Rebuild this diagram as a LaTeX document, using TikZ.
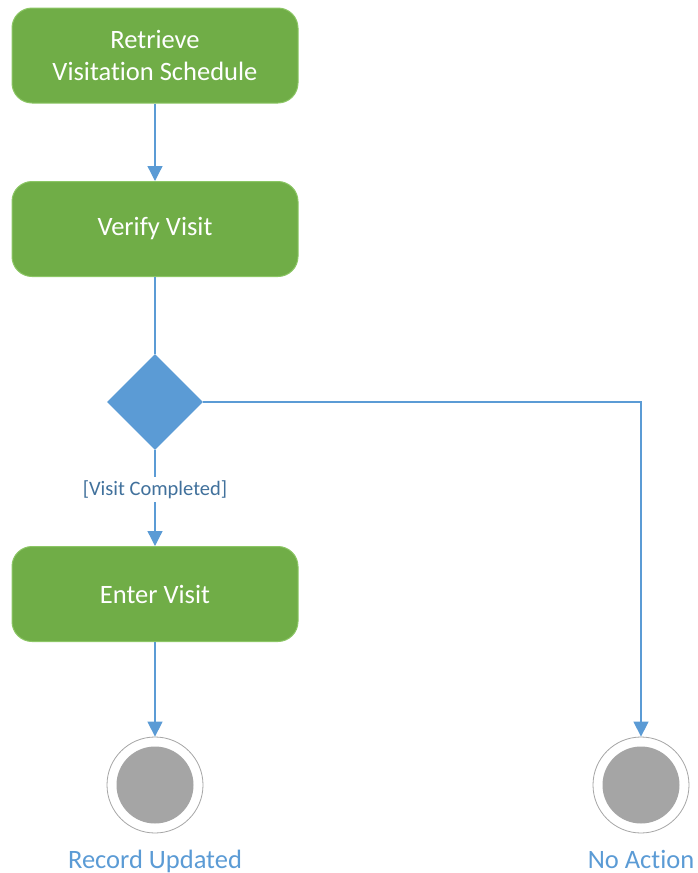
\documentclass[tikz,border=0pt]{standalone}
\usepackage{fontspec}
\setmainfont[RawFeature={-liga;-clig;-dlig}]{Carlito}
\usetikzlibrary{shapes.geometric,arrows.meta}
\definecolor{actgreen}{HTML}{70AD47}
\definecolor{actborder}{HTML}{8CC665}
\definecolor{flowblue}{HTML}{5B9BD5}
\definecolor{guardblue}{HTML}{41719C}
\definecolor{endgray}{HTML}{A5A5A5}
\tikzset{
  action/.style={draw=actborder, line width=1pt, fill=actgreen, rounded corners=20pt,
    minimum width=286pt, minimum height=95pt, text=white, align=center,
    font=\fontsize{26.5}{32}\selectfont},
  decision/.style={diamond, fill=flowblue, draw=none, minimum width=96pt, minimum height=96pt, inner sep=0pt},
  endouter/.style={circle, draw=endgray, line width=0.8pt, fill=white, minimum size=96pt, inner sep=0pt},
  endinner/.style={circle, fill=endgray, minimum size=77pt, inner sep=0pt},
  flow/.style={draw=flowblue, line width=1.3pt, -{Triangle[length=15pt,width=15pt]}},
  flowplain/.style={draw=flowblue, line width=1.3pt},
  endlabel/.style={text=flowblue, font=\fontsize{26.5}{30}\selectfont, anchor=base, inner sep=0pt},
  guard/.style={text=guardblue, font=\fontsize{20.5}{24}\selectfont, fill=white, inner sep=3pt}
}
\begin{document}
\begin{tikzpicture}[x=1pt,y=-1pt]
\useasboundingbox (0,0) rectangle (697,873);
\node[action] (retrieve) at (155,55.5) {Retrieve\\Visitation Schedule};
\node[action] (verify) at (155,229) {Verify Visit};
\node[decision] (dec) at (155,402) {};
\node[action] (enter) at (155,594) {Enter Visit};
\node[endouter] (endA) at (155,785) {};
\node[endinner] at (endA) {};
\node[endouter] (endB) at (641,785) {};
\node[endinner] at (endB) {};
\node[endlabel] (labA) at (155,868) {Record Updated};
\node[endlabel] (labB) at (641,868) {No Action};
\coordinate (corner) at (641,402);
\draw[flow] (retrieve) -- (verify);
\draw[flowplain] (verify) -- (dec);
\draw[flow] (dec) -- node[guard, pos=0.41] {[Visit Completed]} (enter);
\draw[flow] (enter) -- (endA);
\draw[flow] (dec.east) -- (corner) -- (endB);
\end{tikzpicture}
\end{document}
